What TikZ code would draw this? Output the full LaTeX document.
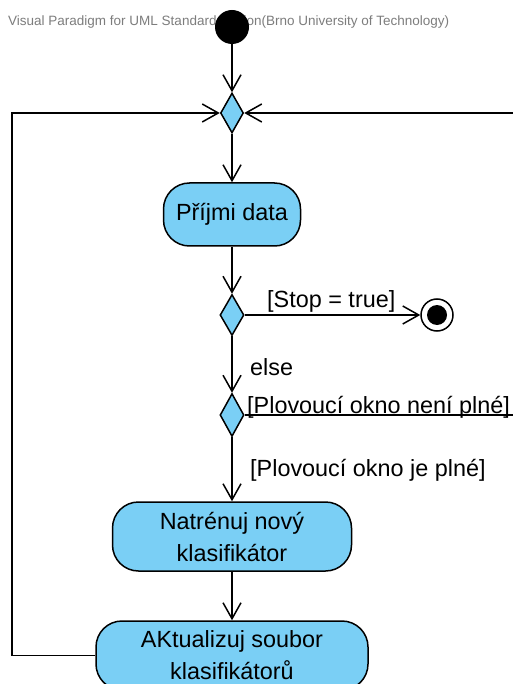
\documentclass[tikz,border=0pt]{standalone}
\usepackage{fontspec}
\setmainfont{Liberation Sans}
\usetikzlibrary{arrows.meta,shapes.geometric}
\definecolor{actfill}{RGB}{122,207,245}
\definecolor{wmgray}{RGB}{125,125,125}
\begin{document}
\begin{tikzpicture}[x=1pt,y=-1pt,
  act/.style={draw=black, line width=1.5pt, fill=actfill, rounded corners=26pt,
    inner sep=0pt, align=center, font=\fontsize{23.4}{32}\selectfont},
  decision/.style={diamond, draw=black, line width=1.5pt, fill=actfill, inner sep=0pt,
    minimum width=24pt, minimum height=41pt},
  flow/.style={draw=black, line width=1.5pt, -{Straight Barb[length=16pt,width=18pt]}},
  lbl/.style={font=\fontsize{23.4}{28}\selectfont, inner sep=0pt, anchor=base west},
  wm/.style={font=\fontsize{13.5}{16}\selectfont, text=wmgray, inner sep=0pt, anchor=base west}]
\useasboundingbox (0,0) rectangle (512,684);
\fill[white] (0,0) rectangle (512,684);
% watermark
\node[wm] (wmark) at (8,25.5) {Visual Paradigm for UML Standard Edition(Brno University of Technology)};
% nodes
\node[circle, fill=black, inner sep=0pt, minimum size=34pt] (start) at (232,27) {};
\node[decision, minimum width=23pt, minimum height=40pt] (merge) at (232,113) {};
\node[act, minimum width=137pt, minimum height=63pt] (recv) at (232,214.5) {Příjmi data};
\node[decision] (d1) at (232,315) {};
\node[circle, draw=black, fill=white, line width=1.5pt, inner sep=0pt, minimum size=32pt] (final) at (437,315) {};
\fill[black] (final.center) circle (10);
\node[decision, minimum height=43pt] (d2) at (232,415) {};
\node[act, minimum width=239pt, minimum height=69pt] (train) at (232,536.5) {Natrénuj nový\\klasifikátor};
\node[act, minimum width=272pt, minimum height=69pt] (upd) at (232,655.5) {AKtualizuj soubor\\klasifikátorů};
\coordinate (loopL) at (12,113);
\coordinate (loopR) at (560,113);
% connectors
\draw[flow] (start) -- (merge);
\draw[flow] (merge) -- (recv);
\draw[flow] (recv) -- (d1);
\draw[flow] (d1) -- (final);
\draw[flow] (d1) -- (d2);
\draw[flow] (d2) -- (train);
\draw[flow] (train) -- (upd);
\draw[flow] (upd.west) -| (loopL) -- (merge.west);
\draw[flow] (d2.east) -| (loopR) -- (merge.east);
% labels
\node[lbl] (lstop) at (267,307) {[Stop = true]};
\node[lbl] (lelse) at (250,375) {else};
\node[lbl] (lnot) at (247,413) {[Plovoucí okno není plné]};
\node[lbl] (lfull) at (250,476) {[Plovoucí okno je plné]};
\end{tikzpicture}
\end{document}
